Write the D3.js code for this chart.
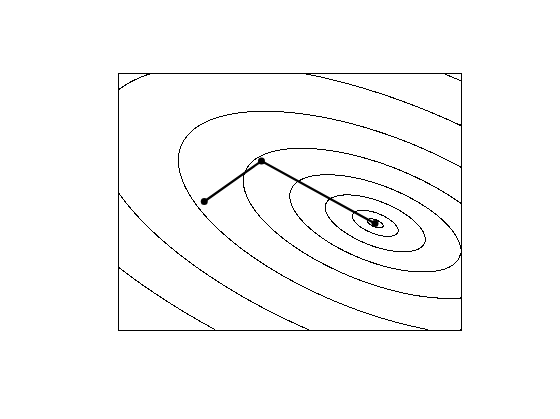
<!DOCTYPE html>
<html>
<head>
<meta charset="utf-8">
<script src="https://cdn.jsdelivr.net/npm/d3@7"></script>
<style>
  html, body { margin: 0; padding: 0; background: #fff; }
  svg { display: block; }
</style>
</head>
<body>
<div id="chart"></div>
<script>
// ---- data ----
// quadratic objective f(x,y) = a*(x-cx)^2 + b*(x-cx)*(y-cy) + c*(y-cy)^2
const quadCoef = [1.0, 1.97, 3.08];
const quadCenter = [3.0, 1.245];
// contour levels drawn
const contourLevels = [0.006, 0.049, 0.233, 0.68, 1.62, 3.61, 7.25, 12.8];
// optimisation path (iterates)
const pathX = [1.006, 1.673, 2.997];
const pathY = [1.50, 1.973, 1.243];
// axis domains (no visible ticks)
const xDomain = [0, 4];
const yDomain = [0, 3];

// ---- layout ----
const W = 560, H = 419;
const plot = { left: 118, top: 73, right: 461, bottom: 330 };

const svg = d3.select("#chart").append("svg")
  .attr("width", W).attr("height", H);

const x = d3.scaleLinear().domain(xDomain).range([plot.left, plot.right]);
const y = d3.scaleLinear().domain(yDomain).range([plot.bottom, plot.top]);

function f(px, py) {
  const dx = px - quadCenter[0], dy = py - quadCenter[1];
  return quadCoef[0] * dx * dx + quadCoef[1] * dx * dy + quadCoef[2] * dy * dy;
}

// sample grid at pixel resolution over the plot box
const n = plot.right - plot.left, m = plot.bottom - plot.top;
const values = new Float64Array(n * m);
for (let j = 0; j < m; j++) {
  const yy = y.invert(plot.top + j + 0.5);
  for (let i = 0; i < n; i++) {
    const xx = x.invert(plot.left + i + 0.5);
    values[j * n + i] = f(xx, yy);
  }
}
const contours = d3.contours().size([n, m]).thresholds(contourLevels)(values);

const clipId = "plotclip";
svg.append("clipPath").attr("id", clipId).append("rect")
  .attr("x", plot.left).attr("y", plot.top)
  .attr("width", n).attr("height", m);

const geo = d3.geoPath(d3.geoIdentity().translate([plot.left, plot.top]));
svg.append("g").attr("clip-path", `url(#${clipId})`)
  .selectAll("path").data(contours).join("path")
  .attr("d", geo)
  .attr("fill", "none")
  .attr("stroke", "#000")
  .attr("stroke-width", 1)
  .attr("shape-rendering", "crispEdges");

// frame
svg.append("rect")
  .attr("x", plot.left + 0.5).attr("y", plot.top + 0.5)
  .attr("width", n).attr("height", m)
  .attr("fill", "none").attr("stroke", "#000").attr("stroke-width", 1)
  .attr("shape-rendering", "crispEdges");

// path
const pts = pathX.map((v, i) => [v, pathY[i]]);
svg.append("path")
  .datum(pts)
  .attr("d", d3.line().x(d => x(d[0])).y(d => y(d[1])))
  .attr("fill", "none").attr("stroke", "#000").attr("stroke-width", 2.2);
svg.selectAll("circle.pt").data(pts).join("circle")
  .attr("class", "pt")
  .attr("cx", d => x(d[0])).attr("cy", d => y(d[1]))
  .attr("r", 3.5).attr("fill", "#000");
</script>
</body>
</html>
